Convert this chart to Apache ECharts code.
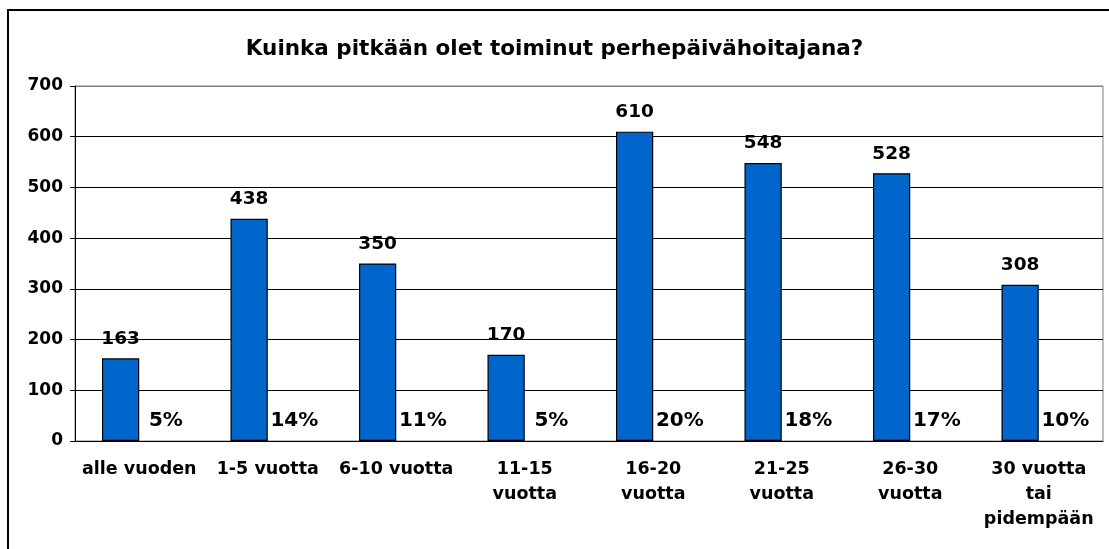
<!DOCTYPE html>
<html>
<head>
<meta charset="utf-8">
<script src="https://cdn.jsdelivr.net/npm/echarts@6/dist/echarts.min.js"></script>
<style>
  html, body { margin: 0; padding: 0; background: #fff; }
  #chart { width: 1109px; height: 549px; }
</style>
</head>
<body>
<div id="chart"></div>
<script>
var titleText = 'Kuinka pitkään olet toiminut perhepäivähoitajana?';
var categories = ['alle vuoden', '1-5 vuotta', '6-10 vuotta', '11-15\nvuotta', '16-20\nvuotta',
    '21-25\nvuotta', '26-30\nvuotta', '30 vuotta\ntai\npidempään'];
var counts = [163, 438, 350, 170, 610, 548, 528, 308];
var percents = [5, 14, 11, 5, 20, 18, 17, 10];

var font = 'DejaVu Sans';
var chart = echarts.init(document.getElementById('chart'));
chart.setOption({
    backgroundColor: '#fff',
    animation: false,
    title: {
        text: titleText,
        left: 'center',
        top: 33,
        textStyle: { fontFamily: font, fontSize: 21.5, fontWeight: 'bold', color: '#000' }
    },
    graphic: [{
        type: 'rect',
        shape: { x: 8, y: 10, width: 1200, height: 600 },
        style: { fill: 'none', stroke: '#000', lineWidth: 2 },
        silent: true
    }],
    grid: {
        left: 75, top: 86, right: 6, bottom: 108,
        show: true, borderColor: '#808080', borderWidth: 1
    },
    xAxis: {
        type: 'category',
        data: categories,
        axisLine: { lineStyle: { color: '#000', width: 1 } },
        axisTick: { length: 6, lineStyle: { color: '#000' } },
        axisLabel: {
            interval: 0, margin: 16, color: '#000',
            fontFamily: font, fontSize: 17.5, fontWeight: 'bold', lineHeight: 25
        }
    },
    yAxis: {
        type: 'value',
        min: 0, max: 700, interval: 100,
        axisLine: { show: true, lineStyle: { color: '#000', width: 1 } },
        axisTick: { show: true, length: 5, lineStyle: { color: '#000' } },
        splitLine: {
            lineStyle: {
                color: ['#000', '#000', '#000', '#000', '#000', '#000', '#000', '#808080'],
                width: 1
            }
        },
        axisLabel: { margin: 12, color: '#000', fontFamily: font, fontSize: 17, fontWeight: 'bold' }
    },
    series: [{
        type: 'bar',
        data: counts,
        barGap: '0%',
        barCategoryGap: '42%',
        itemStyle: { color: '#0066CC', borderColor: '#000', borderWidth: 1.2 },
        label: {
            show: true, position: 'top', distance: 10, color: '#000',
            fontFamily: font, fontSize: 18.5, fontWeight: 'bold'
        }
    }, {
        type: 'bar',
        data: percents,
        itemStyle: { color: 'rgba(0,0,0,0)' },
        label: {
            show: true, position: 'insideBottom', distance: 10, offset: [8, 0],
            formatter: '{c}%', color: '#000',
            fontFamily: font, fontSize: 20, fontWeight: 'bold'
        }
    }]
});
</script>
</body>
</html>
